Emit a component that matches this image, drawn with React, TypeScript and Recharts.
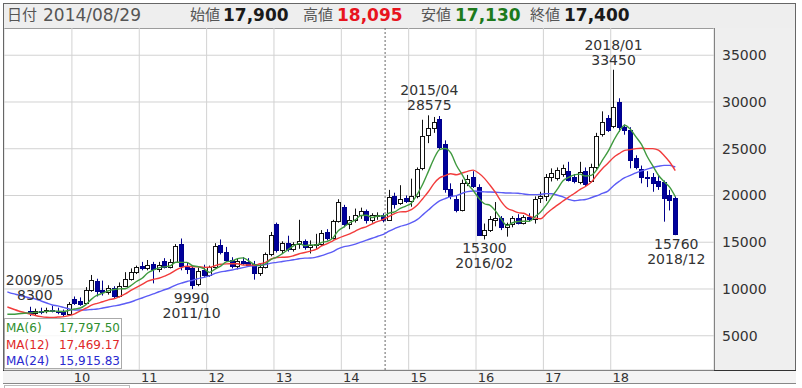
import React from "react";
import {
  ComposedChart,
  Bar,
  Line,
  XAxis,
  YAxis,
  CartesianGrid,
  ReferenceLine,
  ReferenceDot,
} from "recharts";

const FONT = '"DejaVu Sans", "Noto Sans CJK JP", sans-serif';

// monthly candles, 2009/05 .. 2018/12 (index 0 = 2009/05)
const opens = [
  7600, 7400, 7700, 7600, 7800, 7700, 7500, 7300,
  8900, 8700, 8500, 9900, 10900, 9900, 9700, 10100, 9200, 10300, 11100, 11800,
  12500, 12200, 12700, 12100, 13000, 12400, 12900, 14800, 12500, 12200, 10500, 12000,
  11500, 12300, 14700, 14000, 13100, 12500, 13000, 12900, 12700, 11700, 12400, 13700,
  16900, 14200, 14900, 14300, 14800, 15100, 14500, 14700, 14800, 16100, 15500, 17300,
  18800, 17000, 17400, 17900, 18300, 17400, 17900, 17900, 17400, 19900, 19200, 19700,
  19400, 19900, 22900, 26500, 27200, 28200, 25500, 20700, 19600, 18500, 21300, 22000,
  20900, 15800, 16300, 17400, 17600, 16600, 16900, 17600, 17100, 17700, 17500, 19700,
  19900, 22000, 21900, 22300, 22600, 22000, 21400, 22600, 21600, 23000, 26600, 28300,
  27400, 30000, 27300, 27000, 24000, 22800, 22000, 22000, 21600, 21400, 20100, 19700,
];
const highs = [
  8100, 7900, 8000, 8000, 8200, 8000, 7800, 8600,
  9200, 9100, 10200, 11500, 11100, 10900, 10400, 10300, 10700, 11800, 12200, 12500,
  12900, 13100, 12900, 12900, 13300, 13200, 14800, 15400, 12800, 12500, 12300, 12600,
  12500, 14900, 15300, 14500, 13400, 13300, 13400, 13300, 13000, 12700, 13900, 16100,
  17100, 15100, 15700, 15000, 17400, 15300, 15200, 15900, 16300, 16400, 17400, 19600,
  19000, 17800, 18600, 18700, 18500, 18100, 18200, 18095, 20600, 20300, 21100, 20000,
  21800, 23000, 28100, 28575, 28400, 28500, 25900, 21300, 20000, 21700, 22200, 22600,
  21200, 17000, 17800, 19300, 17800, 17100, 17800, 18000, 17900, 18100, 19900, 20400,
  22300, 22900, 23000, 23300, 23600, 22300, 23600, 23000, 23400, 26700, 29000, 28600,
  33450, 30400, 27600, 27300, 24300, 23200, 22600, 22400, 22200, 21600, 20600, 19900,
];
const lows = [
  7100, 7200, 7300, 7400, 7500, 7300, 7000, 7200,
  8300, 8200, 8400, 9700, 9200, 9300, 9400, 9000, 9100, 10200, 10900, 11600,
  12000, 12000, 10600, 11800, 12200, 12200, 12800, 12000, 11600, 9990, 10300, 11300,
  11300, 12200, 13700, 12900, 12200, 12100, 12600, 12400, 11000, 11400, 12200, 13500,
  13900, 13800, 14000, 14000, 14300, 14200, 13800, 14300, 14600, 15200, 15300, 17100,
  16600, 16400, 17100, 17500, 17000, 17100, 17400, 17130, 17300, 18600, 19000, 19200,
  18800, 19700, 22700, 25600, 26700, 24900, 20300, 19600, 18200, 18300, 21000, 20800,
  15700, 15300, 16100, 16700, 16300, 15600, 16600, 16900, 16900, 17200, 17000, 19200,
  19400, 21500, 21600, 22000, 21500, 21300, 21200, 21000, 21400, 22800, 26300, 26800,
  27200, 26800, 26500, 22900, 22800, 21300, 20900, 20400, 20600, 17200, 18400, 15760,
];
const closes = [
  7400, 7700, 7600, 7800, 7700, 7500, 7300, 8400,
  8500, 8400, 9900, 11000, 9800, 9700, 10100, 9200, 10300, 11100, 11800, 12300,
  12200, 12600, 12100, 12600, 12400, 12900, 14600, 12500, 12100, 10400, 11900, 11500,
  12300, 14600, 14000, 13100, 12500, 13000, 12800, 12600, 11700, 12400, 13700, 15800,
  14200, 14900, 14300, 14800, 15100, 14500, 14700, 14800, 16000, 15500, 17300, 19300,
  17000, 17400, 17900, 18300, 17400, 17900, 17900, 17400, 19800, 19100, 19600, 19400,
  19900, 22800, 26400, 27200, 27900, 25200, 20700, 19900, 18500, 21300, 21800, 21000,
  15800, 16300, 17500, 17600, 16600, 16900, 17600, 17100, 17700, 17500, 19600, 19900,
  22000, 22400, 22700, 22900, 21700, 21500, 22500, 21200, 23100, 26400, 27900, 27000,
  29500, 27300, 27000, 23800, 23000, 22000, 21900, 21300, 21000, 19700, 19500, 15900,
];

const ma6Lead = [7300, 7300, 7350, 7400, 7450, 7500, 7550, 7600, 7650];
const ma12Lead = [8080, 7860, 7650, 7490, 7330, 7170, 7050, 6980, 6960, 7000, 7050, 7150, 7350, 7650, 7950];
const ma24Lead = [
  9700, 9500, 9360, 9200, 9040, 8930, 8720, 8500, 8290, 8190, 8030, 7860, 7760, 7760,
  7760, 7810, 7860, 7970, 8080, 8190, 8290, 8450, 8610, 8830, 9040, 9260, 9470,
];
const LEAD = 4;

const yearTicks = [7.5, 19.5, 31.5, 43.5, 55.5, 67.5, 79.5, 91.5, 103.5];
const yearLabels = ["10", "11", "12", "13", "14", "15", "16", "17", "18"];
const priceTicks = [5000, 10000, 15000, 20000, 25000, 30000, 35000];

const marks = [
  { i: 0, v: 8300, date: "2009/05", above: true, dx: 5 },
  { i: 29, v: 9990, date: "2011/10", above: false, dx: -1 },
  { i: 71, v: 28575, date: "2015/04", above: true, dx: 1 },
  { i: 81, v: 15300, date: "2016/02", above: false, dx: 0 },
  { i: 104, v: 33450, date: "2018/01", above: true, dx: 0 },
  { i: 115, v: 15760, date: "2018/12", above: false, dx: 1 },
];

const movingAvg = (n: number, lead: number[], i: number) => {
  if (i < n - 1) return lead[i + LEAD];
  let s = 0;
  for (let k = i - n + 1; k <= i; k++) s += closes[k];
  return s / n;
};

const data: any[] = [];
for (let i = -LEAD; i < closes.length; i++) {
  const has = i >= 0;
  data.push({
    i,
    range: has ? [lows[i], highs[i]] : null,
    open: has ? opens[i] : null,
    high: has ? highs[i] : null,
    low: has ? lows[i] : null,
    close: has ? closes[i] : null,
    ma6: movingAvg(6, ma6Lead, i),
    ma12: movingAvg(12, ma12Lead, i),
    ma24: movingAvg(24, ma24Lead, i),
  });
}

const Candle = (props: any) => {
  const p = props.payload ?? props;
  if (!p || p.open == null) return null;
  const { open, close, high, low } = p;
  const top0 = Math.min(props.y, props.y + props.height);
  const h = Math.abs(props.height);
  const k = high === low ? 0 : h / (high - low);
  const py = (v: number) => top0 + (high - v) * k;
  const c = Math.round(props.x + props.width / 2);
  const up = close >= open;
  const edge = up ? "#111" : "#00008a";
  const bTop = Math.round(py(Math.max(open, close)));
  const bBot = Math.round(py(Math.min(open, close)));
  return (
    <g>
      <line x1={c + 0.5} x2={c + 0.5} y1={top0} y2={top0 + h} stroke={edge} strokeWidth={1} />
      <rect
        x={c - 1.5}
        y={bTop + 0.5}
        width={4}
        height={Math.max(bBot - bTop, 1)}
        fill={up ? "#fff" : "#00009c"}
        stroke={edge}
        strokeWidth={1}
      />
    </g>
  );
};

const XTick = ({ x, y, payload }: any) => {
  const idx = yearTicks.indexOf(payload.value);
  return (
    <text x={x + 10} y={y - 1} textAnchor="middle" dominantBaseline="central" fontSize={13} fill="#333" fontFamily={FONT}>
      {yearLabels[idx]}
    </text>
  );
};

const YTick = ({ x, y, payload }: any) => (
  <text x={x} y={y} textAnchor="start" dominantBaseline="central" fontSize={14} fill="#333" fontFamily={FONT}>
    {payload.value}
  </text>
);

const markLabel = (m: (typeof marks)[number]) => (props: any) => {
  const vb = props.viewBox || {};
  const cx = vb.x + (vb.width || 0) / 2 + m.dx;
  const cy = vb.y + (vb.height || 0) / 2;
  const val = String(m.v);
  const lines = m.above ? [m.date, val] : [val, m.date];
  const ys = m.above ? [cy - 25, cy - 10] : [cy + 8.5, cy + 24];
  return (
    <g>
      {lines.map((t, k) => (
        <text key={k} x={cx} y={ys[k]} textAnchor="middle" dominantBaseline="central" fontSize={14} fill="#333" fontFamily={FONT}>
          {t}
        </text>
      ))}
    </g>
  );
};

const headerItems = [
  { left: 3, text: "日付", size: 15, color: "#555", bold: false },
  { left: 39, text: "2014/08/29", size: 17, color: "#555", bold: false },
  { left: 186, text: "始値", size: 15, color: "#555", bold: false },
  { left: 219, text: "17,900", size: 17, color: "#1a1a1a", bold: true },
  { left: 299, text: "高値", size: 15, color: "#555", bold: false },
  { left: 333, text: "18,095", size: 17, color: "#e8141e", bold: true },
  { left: 417, text: "安値", size: 15, color: "#555", bold: false },
  { left: 451, text: "17,130", size: 17, color: "#1d7a1d", bold: true },
  { left: 526, text: "終値", size: 15, color: "#555", bold: false },
  { left: 560, text: "17,400", size: 17, color: "#1a1a1a", bold: true },
];

const legendRows = [
  { name: "MA(6)", value: "17,797.50", color: "#2f8f2f" },
  { name: "MA(12)", value: "17,469.17", color: "#e02828" },
  { name: "MA(24)", value: "15,915.83", color: "#2a2ad0" },
];

export default function App() {
  return (
    <div
      style={{
        position: "absolute",
        left: 0,
        top: 0,
        width: 802,
        height: 388,
        overflow: "hidden",
        background: "#fff",
        fontFamily: FONT,
      }}
    >
      {/* header */}
      <div
        style={{
          position: "absolute",
          left: 3,
          top: 3,
          width: 793,
          height: 26,
          background: "#eeeeee",
          border: "1px solid #666",
          boxSizing: "border-box",
        }}
      >
        {headerItems.map((h, k) => (
          <span
            key={k}
            style={{
              position: "absolute",
              left: h.left,
              top: 0,
              lineHeight: "23px",
              fontSize: h.size,
              color: h.color,
              fontWeight: h.bold ? "bold" : "normal",
              whiteSpace: "nowrap",
            }}
          >
            {h.text}
          </span>
        ))}
      </div>

      {/* frame pieces */}
      <div style={{ position: "absolute", left: 3, top: 28, width: 1, height: 356, background: "#666" }} />
      <div
        style={{
          position: "absolute",
          left: 714,
          top: 28,
          width: 82,
          height: 342,
          background: "#efefef",
          borderLeft: "1px solid #333",
          borderRight: "1px solid #666",
          boxSizing: "border-box",
        }}
      />
      <div
        style={{
          position: "absolute",
          left: 3,
          top: 370,
          width: 793,
          height: 14,
          background: "#f3f3f3",
          borderTop: "1px solid #333",
          borderBottom: "1px solid #888",
          boxSizing: "border-box",
        }}
      />
      <div
        style={{
          position: "absolute",
          left: 4,
          top: 385,
          width: 126,
          height: 10,
          border: "1px solid #bbb",
          boxSizing: "border-box",
        }}
      />

      <div style={{ position: "absolute", left: 4, top: 28 }}>
        <ComposedChart width={792} height={356} data={data} margin={{ top: 0, right: 0, bottom: 0, left: 0 }}>
          <CartesianGrid stroke="#d2d2d2" strokeWidth={1} />
          <XAxis
            type="number"
            dataKey="i"
            domain={[-4.6, 121.9]}
            ticks={yearTicks}
            interval={0}
            allowDataOverflow
            tick={<XTick />}
            tickLine={false}
            axisLine={false}
            height={14}
          />
          <YAxis
            orientation="right"
            width={82}
            domain={[1337, 37914]}
            ticks={priceTicks}
            interval={0}
            allowDataOverflow
            tick={<YTick />}
            tickLine={false}
            axisLine={false}
          />
          <ReferenceLine x={63.3} stroke="#666666" strokeWidth={1} strokeDasharray="2 2" />
          <Line type="monotone" dataKey="ma24" stroke="#5c5cf5" strokeWidth={1.4} dot={false} isAnimationActive={false} />
          <Line type="monotone" dataKey="ma12" stroke="#f23c3c" strokeWidth={1.4} dot={false} isAnimationActive={false} />
          <Line type="monotone" dataKey="ma6" stroke="#3f9a3f" strokeWidth={1.4} dot={false} isAnimationActive={false} />
          <Bar dataKey="range" barSize={5} shape={(p: any) => <Candle {...p} />} isAnimationActive={false} />
          {marks.map((m) => (
            <ReferenceDot key={m.date} x={m.i} y={m.v} r={1} fill="none" stroke="none" label={markLabel(m)} />
          ))}
        </ComposedChart>
      </div>

      {/* MA legend */}
      <div
        style={{
          position: "absolute",
          left: 4,
          top: 318,
          width: 118,
          height: 51,
          background: "rgba(255,255,255,0.82)",
          border: "1px solid #aaa",
          boxSizing: "border-box",
        }}
      >
        {legendRows.map((r, k) => (
          <div
            key={r.name}
            style={{
              position: "absolute",
              left: 1,
              right: 1,
              top: 1 + k * 16.5,
              height: 16,
              lineHeight: "16px",
              fontSize: 12,
              color: r.color,
              display: "flex",
              justifyContent: "space-between",
            }}
          >
            <span>{r.name}</span>
            <span>{r.value}</span>
          </div>
        ))}
      </div>
    </div>
  );
}
